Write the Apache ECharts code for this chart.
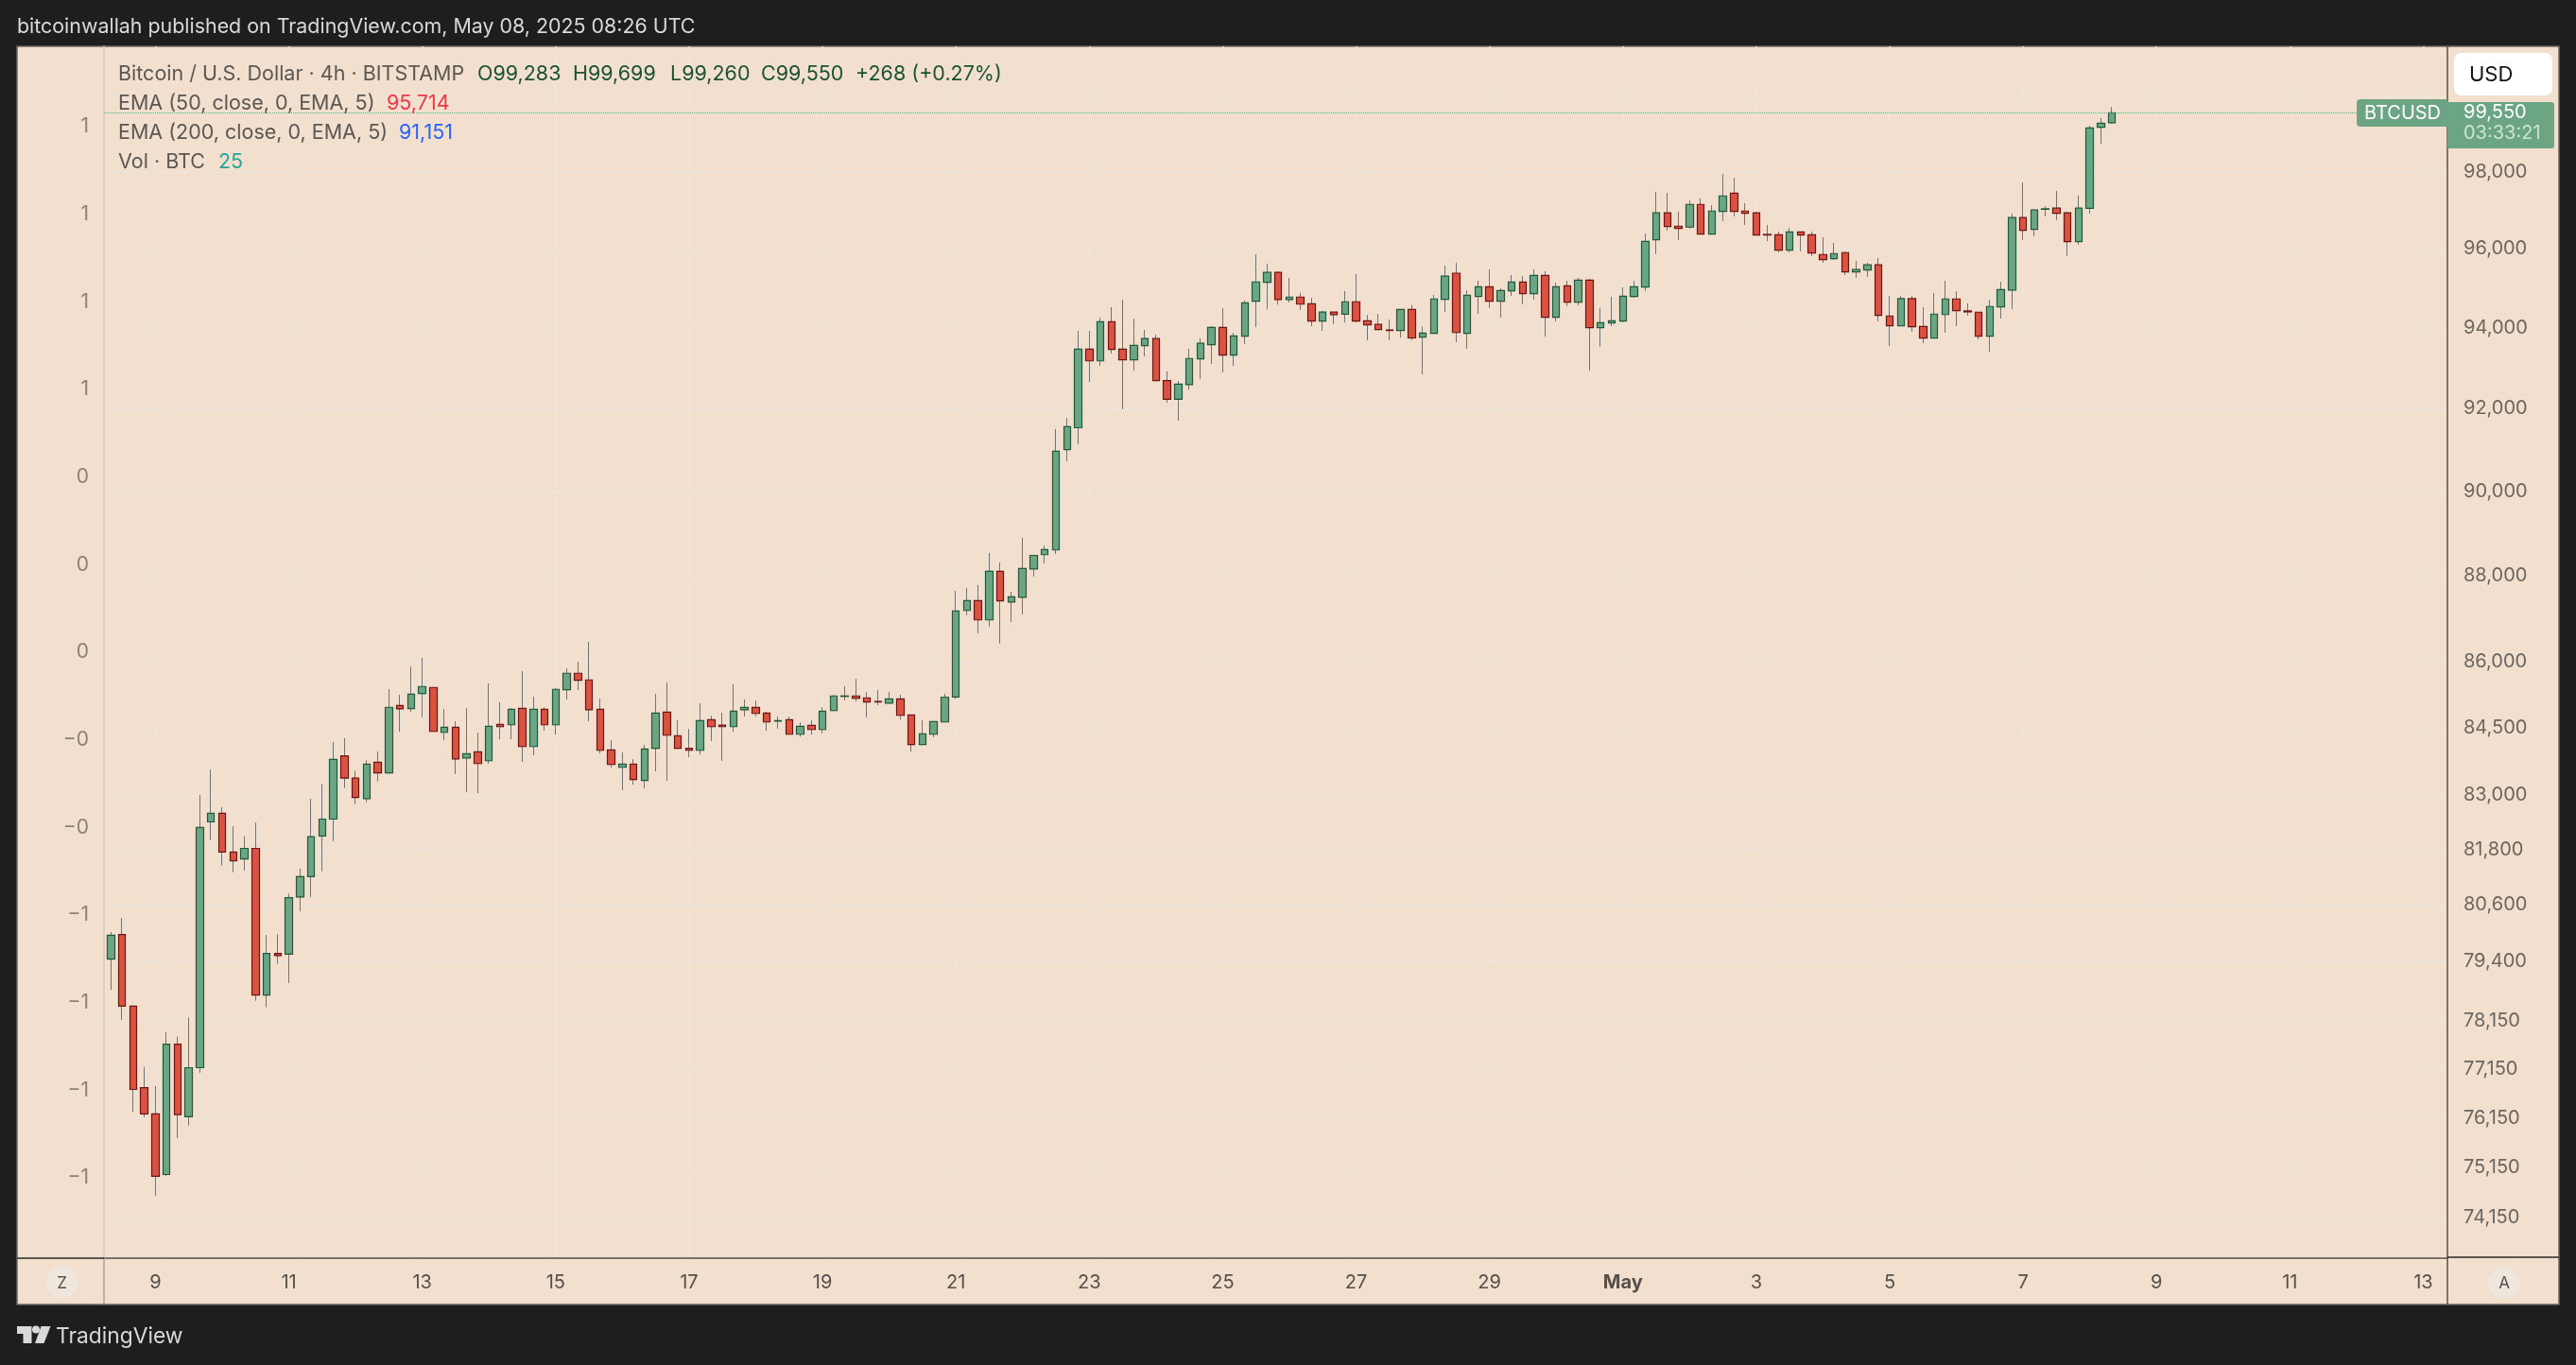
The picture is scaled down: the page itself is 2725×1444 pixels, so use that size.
<!DOCTYPE html>
<html>
<head>
<meta charset="utf-8">
<title>BTCUSD 4h</title>
<style>
    html, body { margin: 0; padding: 0; background: #1e1e1e; }
    #main { width: 2725px; height: 1444px; }
</style>
<script src="https://cdn.jsdelivr.net/npm/echarts@6/dist/echarts.min.js"></script>
</head>
<body>
<div id="main"></div>
<script>
// 4h candles, first one is Apr 8 2025 08:00 UTC
const firstCandle = Date.UTC(2025, 3, 8, 8);
const candleStep = 4 * 3600 * 1000;

const opens = [
    79444,79966,78456,76771,76234,75013,77664,76176,77179,82404,
    82595,81744,81595,81825,78689,79566,79552,80771,81211,82094,
    82466,83869,83371,82919,83724,83490,85001,84932,85273,85411,
    84395,84510,83822,83958,83759,84574,84565,84936,84077,84915,
    84565,85359,85734,85583,84915,84000,83612,83684,83318,84035,
    84851,84318,84035,83992,84680,84559,84523,84906,84957,84829,
    84648,84680,84352,84552,84459,84885,85207,85218,85175,85093,
    85056,85151,84787,84120,84352,84629,85192,87183,87411,86964,
    88097,87380,87490,88152,88488,88600,91000,91532,93472,93179,
    94154,93472,93204,93557,93733,92692,92228,92592,93230,93583,
    94012,93322,93792,94674,95151,95402,94712,94777,94607,94174,
    94400,94345,94658,94181,94088,93950,93936,94462,93769,93863,
    94720,95382,93863,94791,95038,94672,94934,95158,94862,95327,
    94266,95062,94648,95206,94005,94124,94171,94791,95029,96234,
    96927,96585,96560,97146,96379,96966,97439,96975,96927,96372,
    96365,95969,96438,96365,95858,95752,95906,95415,95464,95594,
    94300,94053,94736,94038,93745,94336,94729,94427,94396,93792,
    94529,94955,96808,96502,97020,97049,96927,96186,97044,99163,
    99283
];
const closes = [
    79952,78456,76733,76234,74977,77664,76220,77179,82284,82595,
    81744,81556,81825,78689,79566,79520,80757,81211,82079,82466,
    83789,83371,82945,83684,83490,84960,84925,85256,85433,84416,
    84510,83801,83915,83696,84531,84523,84915,84077,84915,84565,
    85368,85734,85574,84906,83992,83675,83684,83339,84023,84829,
    84331,84035,83992,84659,84523,84523,84872,84957,84821,84629,
    84659,84352,84531,84459,84872,85218,85218,85166,85080,85082,
    85151,84778,84120,84360,84637,85191,87168,87411,86964,88097,
    87404,87499,88161,88472,88609,90959,91557,93472,93179,94154,
    93465,93204,93564,93733,92692,92228,92602,93237,93616,94012,
    93322,93799,94631,95160,95402,94712,94777,94598,94174,94400,
    94334,94658,94174,94079,93960,93936,94462,93750,93872,94729,
    95306,93886,94824,95038,94672,94943,95158,94862,95327,94266,
    95038,94648,95206,94005,94133,94181,94800,95038,96195,96927,
    96575,96526,97146,96379,96975,97366,96966,96917,96355,96358,
    95969,96438,96355,95896,95728,95882,95415,95473,95594,94315,
    94053,94736,94029,93745,94348,94729,94434,94403,93792,94539,
    94965,96808,96477,97000,97032,96917,96186,97049,99148,99273,
    99550
];
const lows = [
    78794,78169,76278,76168,74588,74985,75749,75999,77075,82007,
    81453,81306,81345,78569,78433,79344,78940,80470,80771,81328,
    81979,83152,82791,82840,83297,83467,84412,84861,84736,84410,
    84220,83459,83060,83039,83690,84241,84241,83732,83879,84431,
    84346,85136,85353,84644,83922,83606,83102,83228,83144,83522,
    83312,84028,83837,83900,84199,83753,84410,84751,84751,84431,
    84473,84352,84299,84346,84367,84885,85115,85093,84729,85007,
    85056,84687,83964,84120,84284,84629,85147,87073,86652,86807,
    86419,86916,87088,87971,88279,88503,90719,91131,92660,93053,
    93364,91986,92936,93289,92692,92143,91705,92469,92724,93103,
    92893,93053,93599,94019,94466,94585,94641,94453,94045,93926,
    94095,94138,94138,93691,93960,93691,93759,93691,92844,93863,
    94403,93644,93480,94355,94498,94260,94808,94593,94712,93785,
    94164,94546,94569,92936,93527,94045,94140,94760,94927,95865,
    96470,96227,96518,96379,96379,96714,96836,96616,96355,96202,
    95913,95913,95937,95817,95648,95720,95334,95262,95286,94164,
    93550,94053,93903,93620,93745,93879,94045,94308,93714,93409,
    94236,94474,96227,96323,96836,96738,95817,96106,96910,98732,
    99260
];
const highs = [
    80021,80322,78470,77194,76800,77913,77822,78222,83001,83564,
    82729,82309,82091,82396,79960,79974,80843,81384,82913,83249,
    84178,84261,83539,83772,83967,85372,85248,85890,86085,85420,
    84921,84644,84943,84388,85504,85072,84943,85783,85202,84964,
    85396,85848,85998,86456,85159,84220,83943,83795,84114,85267,
    85525,84665,84473,85050,84772,84836,85482,85136,85115,84857,
    84751,84751,84623,84665,84964,85245,85439,85611,85310,85353,
    85310,85245,84793,84665,84644,85267,87640,87704,87774,88528,
    88304,87618,88887,88472,88703,91500,91772,93926,93926,94257,
    94521,94710,94233,93952,93834,92917,92676,93482,93740,94045,
    94496,93877,94684,95865,95624,95431,95264,94879,94760,94430,
    94400,94929,95358,94326,94352,94212,94462,94577,94038,94831,
    95575,95648,94950,95189,95479,94998,95334,95310,95479,95431,
    95141,95189,95262,95238,94498,94784,95022,95189,96396,97471,
    97446,96958,97251,97300,97129,97938,97838,97178,96958,96616,
    96445,96543,96438,96445,96299,96154,95937,95696,95648,95768,
    94808,94808,94808,94522,94879,95189,94926,94617,94403,94712,
    95165,96909,97715,97007,97105,97495,96958,97373,99206,99406,
    99699
];

const priceTicks = [98000,96000,94000,92000,90000,88000,86000,84500,83000,81800,80600,79400,78150,77150,76150,75150,74150];
const priceGrid = [100000].concat(priceTicks);   // 100,000 has a gridline but sits behind the price tag
const percentTickLabels = ['1','1','1','1','0','0','0','\u22120','\u22120','\u22121','\u22121','\u22121','\u22121'];
const dateTickLabels = ['9','11','13','15','17','19','21','23','25','27','29','May','3','5','7','9','11','13'];
const dateTicks = [
    '2025-04-09','2025-04-11','2025-04-13','2025-04-15','2025-04-17','2025-04-19','2025-04-21','2025-04-23','2025-04-25',
    '2025-04-27','2025-04-29','2025-05-01','2025-05-03','2025-05-05','2025-05-07','2025-05-09','2025-05-11','2025-05-13'
].map(d => Date.parse(d + 'T00:00:00Z'));

const lastClose = closes[closes.length - 1];

const times = opens.map((_, i) => firstCandle + i * candleStep);
const wickData = times.map((t, i) => [t, opens[i], closes[i], lows[i], highs[i]]);
const bodyData = times.map((t, i) => [t, opens[i], closes[i], Math.min(opens[i], closes[i]), Math.max(opens[i], closes[i])]);

const font = 'Inter';
const legendGrey = '#5b5753';
const legendGreen = '#1b5234';
const legendSize = 21.5;

function label(x, y, text, color, size, extra) {
    return {
        type: 'text', x: x, y: y, z: 100, silent: true,
        style: Object.assign({ text: text, fill: color, font: size + 'px ' + font, textVerticalAlign: 'middle', textAlign: 'left' }, extra || {})
    };
}

const panel = [
    { type: 'rect', z: -10, silent: true, shape: { x: 18, y: 49, width: 2689, height: 1331 }, style: { fill: '#f2dfce', stroke: '#6b6661', lineWidth: 1.5 } },
    { type: 'line', z: 50, silent: true, shape: { x1: 110, y1: 1331, x2: 110, y2: 1380 }, style: { stroke: '#a9a096', lineWidth: 1.5 } },
    { type: 'line', z: 50, silent: true, shape: { x1: 2589, y1: 1331, x2: 2589, y2: 1380 }, style: { stroke: '#55504a', lineWidth: 1.5 } },
    { type: 'line', z: 50, silent: true, shape: { x1: 18, y1: 1331, x2: 110, y2: 1331 }, style: { stroke: '#2b2825', lineWidth: 1.5 } },
    { type: 'line', z: 50, silent: true, shape: { x1: 2589, y1: 1330, x2: 2707, y2: 1330 }, style: { stroke: '#2b2825', lineWidth: 1.5 } },
    // corner buttons
    { type: 'circle', z: 50, silent: true, shape: { cx: 65.5, cy: 1357, r: 17 }, style: { fill: '#efe6de' } },
    { type: 'circle', z: 50, silent: true, shape: { cx: 2649, cy: 1357, r: 17 }, style: { fill: '#efe6de' } },
    label(65.5, 1358, 'Z', '#55504a', 17, { textAlign: 'center' }),
    label(2649, 1358, 'A', '#55504a', 17, { textAlign: 'center' }),
    // price tags
    { type: 'rect', z: 90, silent: true, shape: { x: 2493, y: 105, width: 96, height: 29, r: [4, 0, 0, 4] }, style: { fill: '#6ba583' } },
    { type: 'rect', z: 90, silent: true, shape: { x: 2589, y: 108, width: 113, height: 49, r: [0, 3, 3, 0] }, style: { fill: '#6ba583' } },
    label(2501, 119.5, 'BTCUSD', '#ffffff', 20),
    label(2606, 119, '99,550', '#ffffff', 20),
    label(2606, 141, '03:33:21', '#cfe2d6', 20),
    { type: 'rect', z: 90, silent: true, shape: { x: 2596, y: 56, width: 104, height: 45, r: 8 }, style: { fill: '#ffffff' } },
    label(2612, 79, 'USD', '#131313', 22),
    // header
    label(18, 29, 'bitcoinwallah published on TradingView.com, May 08, 2025 08:26 UTC', '#d9d9d9', 21.4),
    // legend
    label(125, 79, 'Bitcoin / U.S. Dollar \u00b7 4h \u00b7 BITSTAMP', legendGrey, legendSize),
    label(505, 79, 'O99,283', legendGreen, legendSize),
    label(606, 79, 'H99,699', legendGreen, legendSize),
    label(709, 79, 'L99,260', legendGreen, legendSize),
    label(805, 79, 'C99,550', legendGreen, legendSize),
    label(905, 79, '+268 (+0.27%)', legendGreen, legendSize),
    label(125, 110, 'EMA (50, close, 0, EMA, 5)', legendGrey, legendSize),
    label(409, 110, '95,714', '#f23645', legendSize),
    label(125, 141, 'EMA (200, close, 0, EMA, 5)', legendGrey, legendSize),
    label(422, 141, '91,151', '#2962ff', legendSize),
    label(125, 172, 'Vol \u00b7 BTC', legendGrey, legendSize),
    label(231, 172, '25', '#26a69a', legendSize),
    // footer logo
    { type: 'polygon', z: 100, silent: true, shape: { points: [[18, 1403], [33.5, 1403], [33.5, 1421], [24.5, 1421], [24.5, 1411], [18, 1411]] }, style: { fill: '#d9d9d9' } },
    { type: 'circle', z: 100, silent: true, shape: { cx: 38, cy: 1406.5, r: 4 }, style: { fill: '#d9d9d9' } },
    { type: 'polygon', z: 100, silent: true, shape: { points: [[43.5, 1403], [53.5, 1403], [46.5, 1421], [37, 1421]] }, style: { fill: '#d9d9d9' } },
    label(59, 1414, 'TradingView', '#d9d9d9', 22.8)
];

const chart = echarts.init(document.getElementById('main'));

chart.setOption({
    animation: false,
    backgroundColor: '#1e1e1e',
    textStyle: { fontFamily: font },
    grid: { left: 110, right: 136, top: 49, bottom: 113, containLabel: false },
    xAxis: {
        type: 'value',
        scale: true,
        min: firstCandle - 0.63 * candleStep,
        max: firstCandle + 210.17 * candleStep,
        axisLine: { onZero: false, lineStyle: { color: '#55504a', width: 1.5 } },
        axisTick: { show: false, customValues: dateTicks },
        splitLine: { show: true, lineStyle: { color: '#eee4db', width: 1.5 } },
        axisLabel: {
            customValues: dateTicks,
            margin: 16,
            color: '#55504a',
            fontFamily: font,
            fontSize: 20,
            formatter: value => {
                const text = dateTickLabels[dateTicks.indexOf(value)];
                return text === 'May' ? '{b|May}' : text;
            },
            rich: { b: { fontWeight: 'bold', fontSize: 20, fontFamily: font, color: '#55504a' } }
        }
    },
    yAxis: [
        {
            type: 'log',
            logBase: 10,
            position: 'right',
            min: 73359,
            max: 101327,
            axisLine: { show: true, onZero: false, lineStyle: { color: '#55504a', width: 1.5 } },
            axisTick: { show: false, customValues: priceGrid },
            splitLine: { show: true, lineStyle: { color: '#eee4db', width: 1.5 } },
            minorSplitLine: { show: false },
            axisLabel: {
                customValues: priceTicks,
                margin: 17,
                color: '#6b665f',
                fontFamily: font,
                fontSize: 20,
                padding: [0, 0, 2, 0],
                formatter: value => Math.round(value).toLocaleString('en-US')
            }
        },
        {
            type: 'value',
            position: 'left',
            min: -0.916,
            max: 12.916,
            splitLine: { show: false },
            axisLine: { show: true, onZero: false, lineStyle: { color: '#d8cbbd', width: 1.5 } },
            axisTick: { show: false, customValues: percentTickLabels.map((_, i) => i) },
            axisLabel: {
                customValues: percentTickLabels.map((_, i) => i),
                margin: 16,
                color: '#8a8178',
                fontFamily: font,
                fontSize: 21,
                formatter: value => percentTickLabels[percentTickLabels.length - 1 - value]
            }
        }
    ],
    series: [
        {
            // thin grey wicks go underneath
            name: 'wicks',
            type: 'candlestick',
            yAxisIndex: 0,
            barWidth: 1,
            data: wickData,
            itemStyle: { color: '#737373', color0: '#737373', borderColor: '#737373', borderColor0: '#737373', borderWidth: 1 },
            markLine: {
                silent: true,
                symbol: 'none',
                label: { show: false },
                lineStyle: { color: '#6ba583', type: 'dotted', width: 1 },
                data: [{ yAxis: lastClose }]
            }
        },
        {
            name: 'bodies',
            type: 'candlestick',
            yAxisIndex: 0,
            barWidth: 8,
            data: bodyData,
            itemStyle: { color: '#6ba583', color0: '#d95340', borderColor: '#1f5a3c', borderColor0: '#6e1414', borderWidth: 1.2 }
        }
    ],
    graphic: { elements: panel }
});
</script>
</body>
</html>
